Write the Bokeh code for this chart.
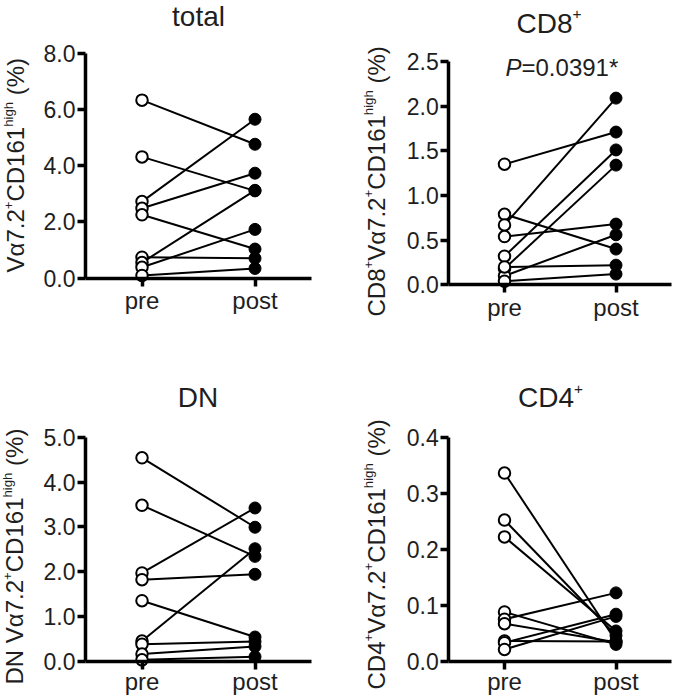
import math
from bokeh.plotting import figure
from bokeh.models import (Range1d, FixedTicker, NumeralTickFormatter, LinearAxis, Label)
from bokeh.layouts import row, column
from bokeh.embed import file_html
from bokeh.resources import INLINE

# ---------------- data ----------------
groups = ["pre", "post"]

total_pre = [6.33, 4.31, 2.72, 2.48, 2.25, 0.74, 0.55, 0.38, 0.09]
total_post = [4.76, 3.10, 5.65, 3.73, 1.03, 0.70, 3.12, 1.73, 0.34]
total_ticks = [0, 2, 4, 6, 8]

cd8_pre = [1.35, 0.79, 0.67, 0.54, 0.32, 0.18, 0.10, 0.20, 0.04]
cd8_post = [1.71, 0.40, 2.09, 0.68, 1.51, 1.34, 0.56, 0.22, 0.12]
cd8_ticks = [0, 0.5, 1.0, 1.5, 2.0, 2.5]

dn_pre = [4.54, 3.48, 1.97, 1.82, 1.35, 0.45, 0.38, 0.16, 0.03]
dn_post = [2.99, 2.34, 3.42, 1.94, 0.54, 2.51, 0.44, 0.33, 0.10]
dn_ticks = [0, 1, 2, 3, 4, 5]

cd4_pre = [0.336, 0.252, 0.222, 0.088, 0.075, 0.067, 0.036, 0.033, 0.021]
cd4_post = [0.036, 0.046, 0.054, 0.030, 0.122, 0.034, 0.035, 0.084, 0.080]
cd4_ticks = [0, 0.1, 0.2, 0.3, 0.4]

p_value_text = "=0.0391*"

# ---------------- styling helpers ----------------
FONT = "Liberation Sans"
TXT = "#1e1e1e"

# Arial / Liberation Sans advance widths (em)
ADV = {'V': .667, 'α': .578, '7': .556, '.': .278, '2': .556, 'C': .722, 'D': .722,
       '1': .556, '6': .556, '8': .556, '4': .556, 'N': .722, ' ': .278, '(': .333,
       '%': .889, ')': .333, '+': .584, 'h': .556, 'i': .222, 'g': .556, 'P': .667,
       '=': .584, '0': .556, '3': .556, '9': .556, '*': .389, 't': .278, 'o': .556,
       'a': .556, 'l': .222}


def tw(s, fs):
    return sum(ADV.get(c, 0.556) for c in s) * fs


SUP = 0.55
RAISE = 0.31
C_H = 9.5    # empirical baseline correction (px) for horizontal labels
C_R = 12.0   # empirical baseline correction (px) for rotated labels


class Panel:
    """A figure whose frame covers its whole canvas; geometry given in page pixels."""

    def __init__(self, x0, y0, w, h, pre_px, post_px, zero_py, top_py, ticks, pre, post,
                 xlab_standoff):
        self.x0, self.y0, self.w, self.h = x0, y0, w, h
        ymax = ticks[-1]
        ux = post_px - pre_px
        xs = -(pre_px - x0) / ux
        uy = (zero_py - top_py) / ymax
        ys = -(y0 + h - zero_py) / uy
        p = figure(width=w, height=h, x_range=Range1d(xs, xs + w / ux),
                   y_range=Range1d(ys, ys + h / uy), output_backend="svg",
                   toolbar_location=None, x_axis_location=None, y_axis_location=None,
                   min_border=0, min_border_left=0, min_border_right=0,
                   min_border_top=0, min_border_bottom=0)
        p.outline_line_color = None
        p.background_fill_color = "white"
        p.border_fill_color = "white"
        p.grid.visible = False

        gx = list(range(len(groups)))  # pre -> 0, post -> 1
        xaxis = LinearAxis(fixed_location=0, bounds=(gx[0] - 0.5, gx[-1] + 0.5),
                           ticker=FixedTicker(ticks=gx),
                           major_label_overrides={g: lab for g, lab in zip(gx, groups)})
        yaxis = LinearAxis(fixed_location=gx[0] - 0.5, bounds=(0, ymax),
                           ticker=FixedTicker(ticks=ticks),
                           formatter=NumeralTickFormatter(format="0.0"))
        for ax in (xaxis, yaxis):
            ax.axis_line_width = 3.5
            ax.axis_line_color = "black"
            ax.major_tick_line_width = 3.5
            ax.major_tick_line_color = "black"
            ax.major_tick_out = 8
            ax.major_tick_in = 0
            ax.minor_tick_out = 0
            ax.minor_tick_in = 0
            ax.axis_label = None
            ax.major_label_text_font = FONT
            ax.major_label_text_color = TXT
        yaxis.major_label_text_font_size = "23px"
        yaxis.major_label_standoff = 2
        xaxis.major_label_text_font_size = "24px"
        xaxis.major_label_standoff = xlab_standoff
        p.add_layout(xaxis, "below")
        p.add_layout(yaxis, "left")

        n = len(pre)
        p.segment(x0=[gx[0]] * n, y0=pre, x1=[gx[1]] * n, y1=post,
                  line_color="black", line_width=2)
        p.scatter(x=[gx[0]] * n, y=pre, size=11.5, marker="circle", fill_color="white",
                  line_color="black", line_width=2)
        p.scatter(x=[gx[1]] * n, y=post, size=12, marker="circle", fill_color="black",
                  line_color="black", line_width=1)
        self.p = p

    def sx(self, px):
        return px - self.x0

    def sy(self, py):
        return self.y0 + self.h - py

    def _label(self, txt, x, y, f, angle=0.0, style="normal"):
        self.p.add_layout(Label(x=x, y=y, x_units="screen", y_units="screen", text=txt,
                                angle=angle, text_font=FONT, text_font_size=f"{f:.1f}px",
                                text_font_style=style, text_align="left",
                                text_baseline="alphabetic", text_color=TXT))

    def rotated(self, pieces, base_px, start_py, fs):
        bx = self.sx(base_px) - C_R
        pos = self.sy(start_py)
        for txt, sup in pieces:
            f = fs * SUP if sup else fs
            lead = len(txt) - len(txt.lstrip(" "))
            pos += tw(" " * lead, f)
            txt = txt.lstrip(" ")
            x = bx - (fs * RAISE if sup else 0)
            self._label(txt, x, pos, f, angle=math.pi / 2)
            pos += tw(txt, f)

    def horizontal(self, pieces, px, py, fs, center=False):
        total = sum(tw(t, fs * SUP if s else fs) for t, s, _ in pieces)
        pos = self.sx(px) - (total / 2 if center else 0)
        y = self.sy(py) + C_H
        for txt, sup, style in pieces:
            f = fs * SUP if sup else fs
            yy = y + (fs * RAISE if sup else 0)
            self._label(txt, pos, yy, f, style=style)
            pos += tw(txt, f)


# page pixel geometry
P1 = Panel(0, 0, 336, 330, 141.5, 254.5, 277.5, 52.7, total_ticks, total_pre, total_post, 1)
P1.horizontal([("total", False, "normal")], 198, 25, 28, center=True)
P1.rotated([("Vα7.2", False), ("+", True), ("CD161", False), ("high", True), (" (%)", False)],
           27, 272, 24)

P2 = Panel(336, 0, 336, 330, 504, 615.5, 284.3, 61, cd8_ticks, cd8_pre, cd8_post, 1)
P2.horizontal([("CD8", False, "normal"), ("+", True, "normal")], 548.5, 32, 28, center=True)
P2.horizontal([("P", False, "italic"), (p_value_text, False, "normal")], 505, 76, 24)
P2.rotated([("CD8", False), ("+", True), ("Vα7.2", False), ("+", True), ("CD161", False),
            ("high", True), (" (%)", False)], 387.5, 316, 24)

P3 = Panel(0, 330, 336, 366, 141.5, 254.5, 660.7, 436.7, dn_ticks, dn_pre, dn_post, -1)
P3.horizontal([("DN", False, "normal")], 197.5, 406.7, 28, center=True)
P3.rotated([("DN Vα7.2", False), ("+", True), ("CD161", False), ("high", True), (" (%)", False)],
           26, 684, 24)

P4 = Panel(336, 330, 336, 366, 504, 615.5, 660.7, 436.7, cd4_ticks, cd4_pre, cd4_post, -1)
P4.horizontal([("CD4", False, "normal"), ("+", True, "normal")], 550, 406.7, 28, center=True)
P4.rotated([("CD4", False), ("+", True), ("Vα7.2", False), ("+", True), ("CD161", False),
            ("high", True), (" (%)", False)], 387.5, 689, 24)

layout = column(row(P1.p, P2.p), row(P3.p, P4.p))
open("out.html", "w").write(file_html(layout, INLINE))
